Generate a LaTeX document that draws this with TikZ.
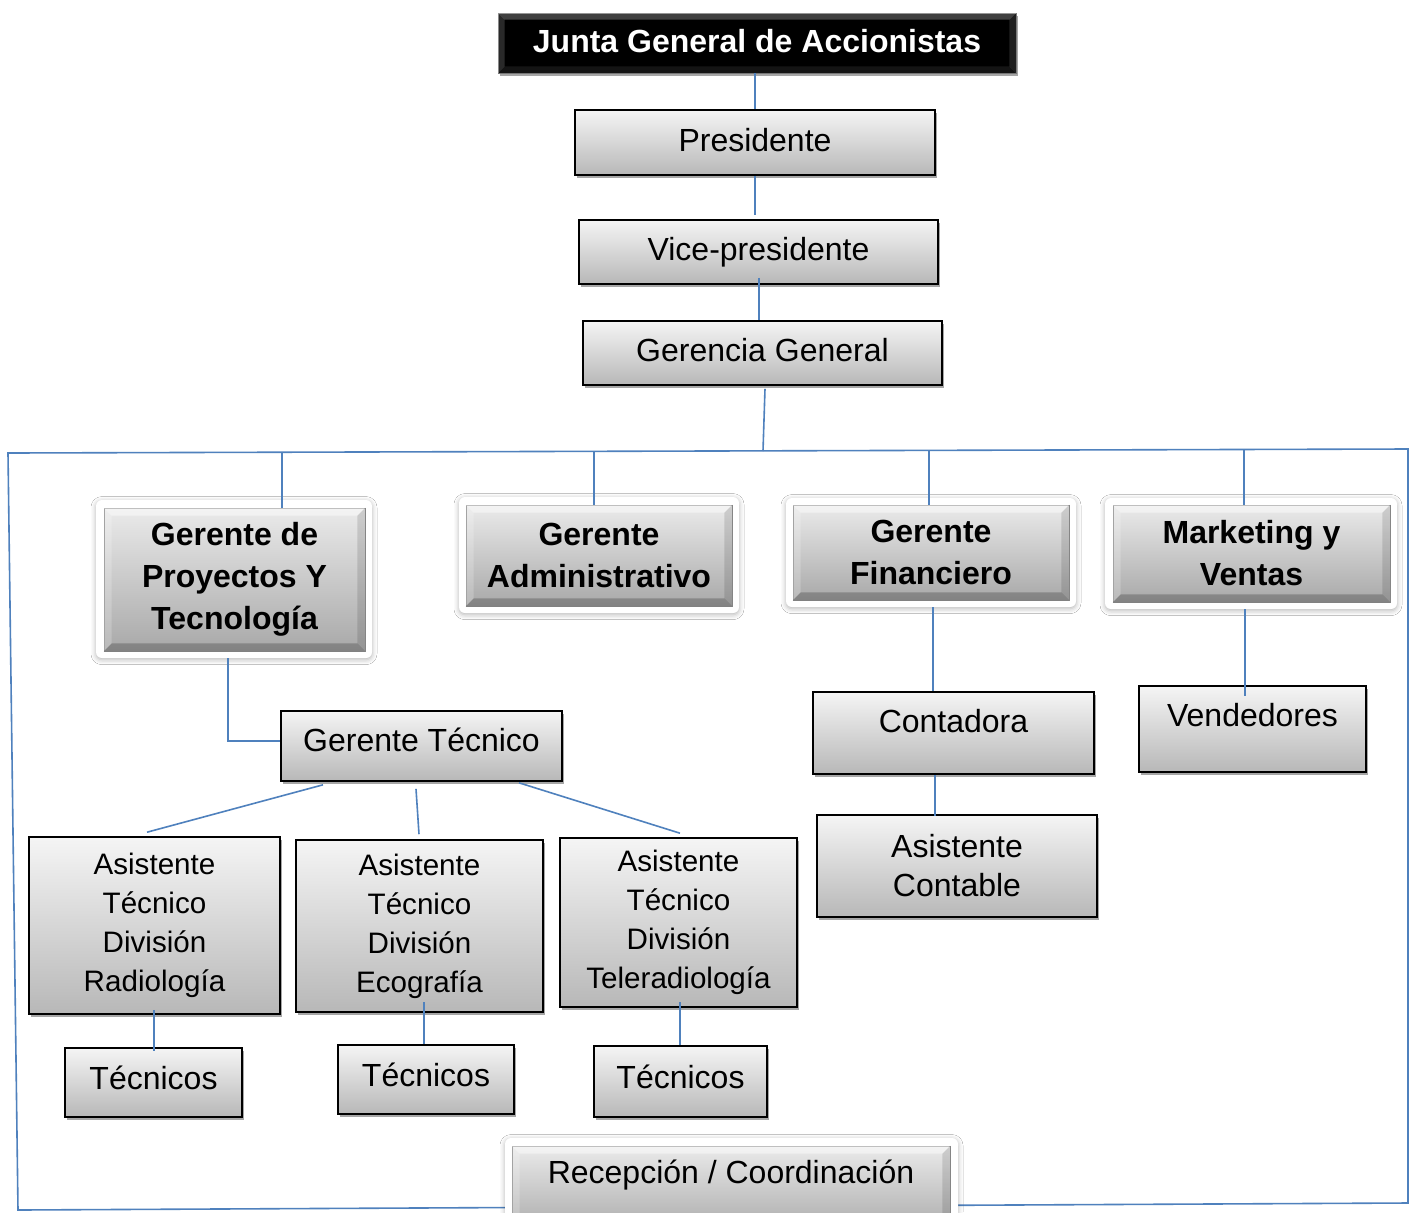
\documentclass[tikz,border=0pt]{standalone}
\usepackage{fontspec}
\setmainfont{Liberation Sans}
\usetikzlibrary{shadows,shadows.blur,calc}
\definecolor{linkblue}{HTML}{4F81BD}
\tikzset{
 plainbox/.style={draw=black, line width=0.8pt, top color=black!4, bottom color=black!28,
   align=center, font=\fontsize{16pt}{19.5pt}\selectfont, inner sep=2pt,
   drop shadow={shadow xshift=1.2pt, shadow yshift=-1.5pt, fill=black, opacity=0.35}},
 asisbox/.style={plainbox, font=\fontsize{14.8pt}{19.5pt}\selectfont},
 whiteframe/.style={fill=white, rounded corners=3pt,
   blur shadow={shadow xshift=0pt, shadow yshift=-0.8pt, shadow blur radius=2.5pt, shadow opacity=30}},
 bevbox/.style={draw=black!45, line width=0.4pt, top color=black!8, bottom color=black!34,
   align=center, font=\fontsize{16pt}{21pt}\selectfont\bfseries, inner sep=2pt},
 juntabox/.style={draw=black!55, line width=0.4pt, fill=black, text=white,
   font=\fontsize{16pt}{19pt}\selectfont\bfseries, inner sep=2pt,
   drop shadow={shadow xshift=1.2pt, shadow yshift=-1.5pt, fill=black, opacity=0.35}},
 link/.style={draw=linkblue, line width=0.8pt},
}
\newcommand\bevelon[6]{%
 \fill[#3] (#1.north west) -- (#1.north east) -- ($(#1.north east)+(-#2,#2)$) -- ($(#1.north west)+(#2,#2)$) -- cycle;
 \fill[#4] (#1.north west) -- (#1.south west) -- ($(#1.south west)+(#2,-#2)$) -- ($(#1.north west)+(#2,#2)$) -- cycle;
 \fill[#5] (#1.north east) -- (#1.south east) -- ($(#1.south east)+(-#2,-#2)$) -- ($(#1.north east)+(-#2,#2)$) -- cycle;
 \fill[#6] (#1.south west) -- (#1.south east) -- ($(#1.south east)+(-#2,-#2)$) -- ($(#1.south west)+(#2,-#2)$) -- cycle;
}
\begin{document}
\begin{tikzpicture}[x=0.5pt,y=-0.5pt]
\useasboundingbox (0,0) rectangle (1415,1212);
\clip (0,0) rectangle (1415,1212);
\fill[white] (0,0) rectangle (1415,1212);

% outer frame / bus
\coordinate (busL) at (8,453);
\coordinate (busR) at (1408,449);
\coordinate (frBR) at (1408,1203);
\coordinate (frBL) at (18,1210);
\draw[link] (busL) -- (busR) -- (frBR) -- (frBL) -- cycle;

% top chain
\node[juntabox, minimum width=259pt, minimum height=30pt, text depth=2pt] (junta) at (757,43) {Junta General de Accionistas};
\bevelon{junta}{7}{white,opacity=.25}{white,opacity=.16}{white,opacity=.12}{white,opacity=.08}
\node[plainbox, minimum width=180pt, minimum height=32.5pt, text depth=3pt] (pres) at (755,142.5) {Presidente};
\node[plainbox, minimum width=179.5pt, minimum height=32pt] (vice) at (758.5,252) {Vice-presidente};
\node[plainbox, minimum width=179.5pt, minimum height=32pt, text depth=3pt] (gg) at (762.5,353) {Gerencia General};

% managers (bevelled, white frames)
\node[whiteframe, minimum width=138pt, minimum height=79pt] (proyF) at (234,579) {};
\node[whiteframe, minimum width=140pt, minimum height=58pt] (admF) at (599,555) {};
\node[whiteframe, minimum width=145pt, minimum height=54.5pt] (finF) at (931,552.5) {};
\node[whiteframe, minimum width=146pt, minimum height=55.5pt] (mktF) at (1251,553.5) {};
\node[whiteframe, minimum width=226.5pt, minimum height=52pt] (recF) at (731.5,1190) {};

\node[bevbox, minimum width=130.5pt, minimum height=71.5pt] (proy) at (234.5,579.5) {Gerente de\\Proyectos Y\\Tecnología};
\bevelon{proy}{8}{white,opacity=.45}{white,opacity=.2}{black,opacity=.12}{black,opacity=.22}
\node[bevbox, minimum width=133pt, minimum height=50.5pt] (adm) at (599,555.5) {Gerente\\Administrativo};
\bevelon{adm}{8}{white,opacity=.45}{white,opacity=.2}{black,opacity=.12}{black,opacity=.22}
\node[bevbox, minimum width=138pt, minimum height=47.5pt] (fin) at (931,552.5) {Gerente\\Financiero};
\bevelon{fin}{8}{white,opacity=.45}{white,opacity=.2}{black,opacity=.12}{black,opacity=.22}
\node[bevbox, minimum width=138.5pt, minimum height=48.5pt] (mkt) at (1251.5,553.5) {Marketing y\\Ventas};
\bevelon{mkt}{8}{white,opacity=.45}{white,opacity=.2}{black,opacity=.12}{black,opacity=.22}
\node[bevbox, font=\fontsize{16pt}{19.5pt}\selectfont, minimum width=219pt, minimum height=44.5pt, text depth=19pt] (rec) at (731,1190.5) {Recepción / Coordinación};
\bevelon{rec}{8}{white,opacity=.45}{white,opacity=.2}{black,opacity=.12}{black,opacity=.22}

% lower boxes
\node[plainbox, minimum width=140.5pt, minimum height=35pt, text depth=6pt] (gt) at (421.5,746) {Gerente Técnico};
\node[asisbox, minimum width=125.5pt, minimum height=88.5pt] (a1) at (154.5,925.5) {Asistente\\Técnico\\División\\Radiología};
\node[asisbox, minimum width=123.5pt, minimum height=86pt] (a2) at (419.5,926) {Asistente\\Técnico\\División\\Ecografía};
\node[asisbox, minimum width=118.5pt, minimum height=84.5pt] (a3) at (678.5,922.5) {Asistente\\Técnico\\División\\Teleradiología};
\node[plainbox, minimum width=88.5pt, minimum height=34.5pt, text depth=5pt] (t1) at (153.5,1082.5) {Técnicos};
\node[plainbox, minimum width=88pt, minimum height=34.5pt, text depth=5pt] (t2) at (426,1079.5) {Técnicos};
\node[plainbox, minimum width=86.5pt, minimum height=35.5pt, text depth=5pt] (t3) at (680.5,1081.5) {Técnicos};
\node[plainbox, minimum width=140.5pt, minimum height=41pt, text depth=12pt] (cont) at (953.5,733) {Contadora};
\node[plainbox, minimum width=140pt, minimum height=51pt] (ac) at (957,866) {Asistente\\Contable};
\node[plainbox, minimum width=113.5pt, minimum height=43pt, text depth=14pt] (vend) at (1252.5,729) {Vendedores};

% connectors
\draw[link] (pres.north) -- (pres.north |- junta.south);
\draw[link] (pres.south) -- ($(pres.south |- vice.north)+(0,-4)$);
\draw[link] ($(vice.south)+(0.5,-7)$) -- ($(vice.south |- gg.north)+(0.5,0)$);
\coordinate (hub) at (763,451);
\draw[link] ($(gg.south)+(2.5,3)$) -- (hub);

\coordinate (dA) at (282,452);
\coordinate (dB) at (594,451.5);
\coordinate (dC) at (929,450.5);
\coordinate (dD) at (1244,449.5);
\draw[link] (dA) -- (dA |- proy.north);
\draw[link] (dB) -- (dB |- adm.north);
\draw[link] (dC) -- (dC |- fin.north);
\draw[link] (dD) -- (dD |- mkt.north);

\coordinate (pk) at (228,741);
\draw[link] (pk |- proyF.south) -- (pk) -- (pk -| gt.west);
\draw[link] ($(gt.south)+(-98.5,3)$) -- ($(a1.north)+(-7.5,-4)$);
\draw[link] ($(gt.south)+(-5.5,7)$) -- ($(a2.north)+(-0.5,-5)$);
\draw[link] ($(gt.south)+(97.5,1)$) -- ($(a3.north)+(1.5,-4)$);

\coordinate (k1) at (154,1010);
\draw[link] (k1) -- ($(k1 |- t1.north)+(0,4)$);
\coordinate (k2) at (424,1002);
\draw[link] (k2) -- (k2 |- t2.north);
\coordinate (k3) at (680,1002);
\draw[link] (k3) -- (k3 |- t3.north);

\coordinate (kf) at (933,607);
\draw[link] (kf |- finF.south) -- (kf |- cont.north);
\coordinate (kc) at (935,774);
\draw[link] (kc |- cont.south) -- ($(kc |- ac.north)+(0,2)$);
\coordinate (km) at (1245,609);
\draw[link] (km |- mktF.south) -- ($(km |- vend.north)+(0,11)$);
\end{tikzpicture}
\end{document}
